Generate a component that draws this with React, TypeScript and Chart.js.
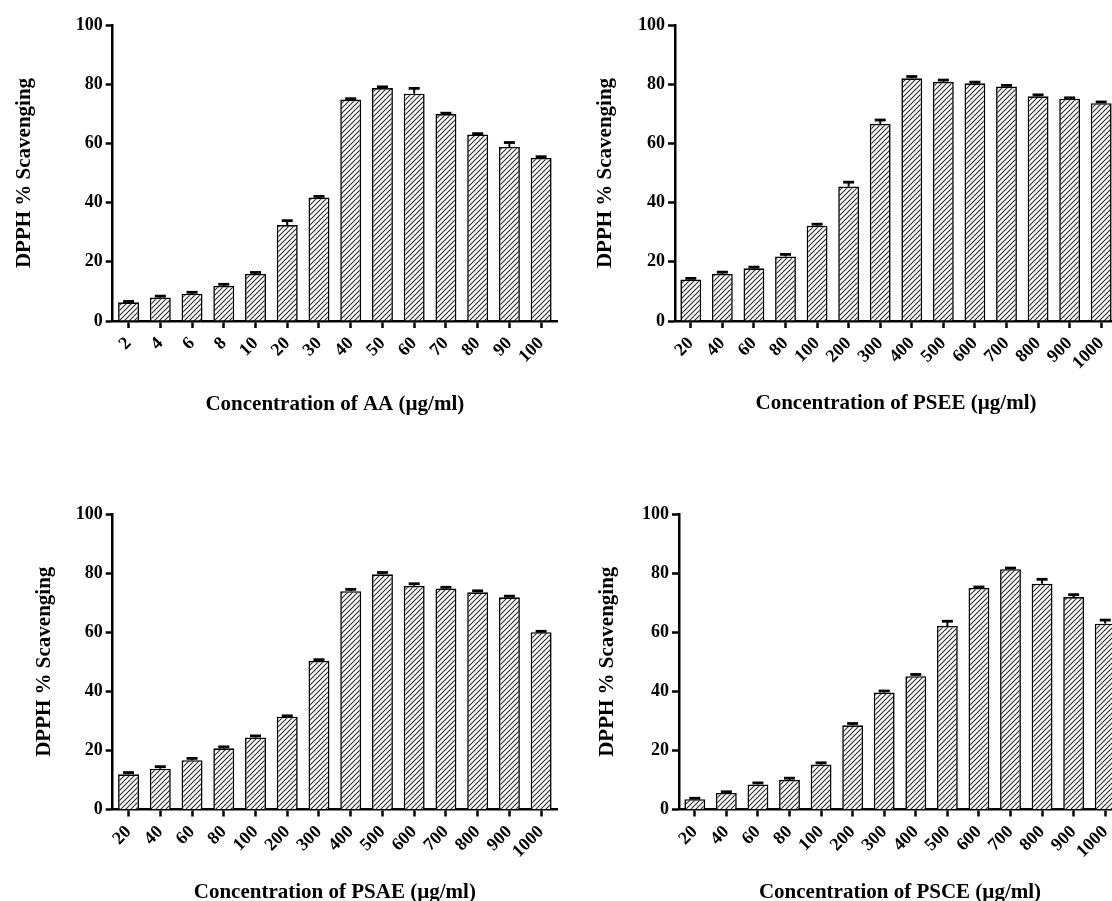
import React, { useEffect, useRef } from 'react';
import { Chart, registerables } from 'chart.js';

Chart.register(...registerables);

// ---------- data ----------
const AA_LABELS = ['2', '4', '6', '8', '10', '20', '30', '40', '50', '60', '70', '80', '90', '100'];
const EXTRACT_LABELS = ['20', '40', '60', '80', '100', '200', '300', '400', '500', '600', '700', '800', '900', '1000'];

const AA_VALUES = [6.3, 7.9, 9.2, 11.9, 15.9, 32.4, 41.7, 74.8, 78.7, 76.8, 69.9, 63.0, 58.8, 55.1];
const AA_ERRORS = [0.3, 0.5, 0.5, 0.5, 0.5, 1.5, 0.4, 0.3, 0.4, 1.8, 0.3, 0.3, 1.5, 0.4];

const PSEE_VALUES = [14.0, 15.9, 17.8, 21.8, 32.2, 45.4, 66.6, 82.0, 80.8, 80.3, 79.2, 75.9, 75.1, 73.6];
const PSEE_ERRORS = [0.4, 0.6, 0.4, 0.7, 0.5, 1.5, 1.3, 0.6, 0.6, 0.4, 0.4, 0.5, 0.3, 0.4];

const PSAE_VALUES = [11.9, 13.8, 16.7, 20.7, 24.4, 31.4, 50.3, 73.9, 79.6, 75.7, 74.8, 73.5, 71.8, 60.0];
const PSAE_ERRORS = [0.6, 0.7, 0.6, 0.5, 0.5, 0.3, 0.4, 0.6, 0.6, 0.7, 0.4, 0.5, 0.4, 0.3];

const PSCE_VALUES = [3.5, 5.6, 8.5, 10.0, 15.2, 28.5, 39.6, 45.1, 62.1, 75.0, 81.3, 76.4, 71.9, 62.9];
const PSCE_ERRORS = [0.3, 0.4, 0.5, 0.6, 0.6, 0.6, 0.5, 0.6, 1.6, 0.3, 0.4, 1.5, 0.8, 1.2];

const Y_TITLE = 'DPPH % Scavenging';
const Y_MIN = 0;
const Y_MAX = 100;
const Y_STEP = 20;

// ---------- layout / style ----------
const SERIF = '"Liberation Serif", "Times New Roman", "DejaVu Serif", serif';

type PanelSpec = {
  labels: string[];
  values: number[];
  errors: number[];
  xTitle: string;
  x: number; y: number; w: number; h: number;
  padTop: number; padRight: number;
  yw: number; xh: number;
  yTitlePad: number; xTitlePad: number;
};

const PANELS: PanelSpec[] = [
  { labels: AA_LABELS, values: AA_VALUES, errors: AA_ERRORS, xTitle: 'Concentration of AA (\u00b5g/ml)',
    x: 0, y: 0, w: 560, h: 450, padTop: 25, padRight: 3, yw: 112.7, xh: 129, yTitlePad: 12.4, xTitlePad: 32.4 },
  { labels: EXTRACT_LABELS, values: PSEE_VALUES, errors: PSEE_ERRORS, xTitle: 'Concentration of PSEE (\u00b5g/ml)',
    x: 560, y: 0, w: 570, h: 450, padTop: 25, padRight: 13, yw: 115, xh: 129, yTitlePad: 33.4, xTitlePad: 33.4 },
  { labels: EXTRACT_LABELS, values: PSAE_VALUES, errors: PSAE_ERRORS, xTitle: 'Concentration of PSAE (\u00b5g/ml)',
    x: 0, y: 490, w: 560, h: 450, padTop: 24, padRight: 3, yw: 112.7, xh: 130.5, yTitlePad: 32.4, xTitlePad: 34.4 },
  { labels: EXTRACT_LABELS, values: PSCE_VALUES, errors: PSCE_ERRORS, xTitle: 'Concentration of PSCE (\u00b5g/ml)',
    x: 560, y: 490, w: 570, h: 450, padTop: 24, padRight: 9, yw: 119, xh: 130.5, yTitlePad: 34.9, xTitlePad: 34.4 },
];

function makeHatch(ctx: CanvasRenderingContext2D): CanvasPattern | string {
  const s = 5;
  const c = document.createElement('canvas');
  c.width = s;
  c.height = s;
  const g = c.getContext('2d');
  if (!g) return '#fff';
  g.fillStyle = '#ffffff';
  g.fillRect(0, 0, s, s);
  g.strokeStyle = '#2b2b2b';
  g.lineWidth = 1.1;
  g.beginPath();
  g.moveTo(0, s);
  g.lineTo(s, 0);
  g.moveTo(-1, 1);
  g.lineTo(1, -1);
  g.moveTo(s - 1, s + 1);
  g.lineTo(s + 1, s - 1);
  g.stroke();
  return ctx.createPattern(c, 'repeat') || '#fff';
}

function errorBarPlugin(errors: number[]) {
  return {
    id: 'errorBars',
    afterDatasetsDraw(chart: any) {
      const ctx: CanvasRenderingContext2D = chart.ctx;
      const meta = chart.getDatasetMeta(0);
      const yScale = chart.scales.y;
      const vals = chart.data.datasets[0].data as number[];
      ctx.save();
      ctx.strokeStyle = '#000';
      ctx.lineCap = 'butt';
      meta.data.forEach((el: any, i: number) => {
        const top = yScale.getPixelForValue(vals[i] + errors[i]);
        const base = el.y;
        ctx.lineWidth = 2;
        ctx.beginPath();
        ctx.moveTo(el.x, base);
        ctx.lineTo(el.x, top);
        ctx.stroke();
        ctx.lineWidth = 2.8;
        ctx.beginPath();
        ctx.moveTo(el.x - 5.5, top);
        ctx.lineTo(el.x + 5.5, top);
        ctx.stroke();
      });
      ctx.restore();
    },
  };
}

function Panel({ spec }: { spec: PanelSpec }) {
  const ref = useRef<HTMLCanvasElement>(null);
  useEffect(() => {
    const canvas = ref.current;
    if (!canvas) return;
    const ctx = canvas.getContext('2d');
    if (!ctx) return;
    const pattern = makeHatch(ctx);
    const tickFont = { family: SERIF, size: 18, weight: 'bold' as const };
    const titleFont = { family: SERIF, size: 21, weight: 'bold' as const };
    const chart = new Chart(canvas, {
      type: 'bar',
      data: {
        labels: spec.labels,
        datasets: [
          {
            data: spec.values,
            backgroundColor: pattern as any,
            borderColor: '#000',
            borderWidth: 1.6,
            barPercentage: 0.66,
            categoryPercentage: 1,
          },
        ],
      },
      options: {
        responsive: false,
        animation: false,
        devicePixelRatio: 1,
        layout: { padding: { left: 0, top: spec.padTop, right: spec.padRight, bottom: 0 } },
        plugins: { legend: { display: false }, tooltip: { enabled: false } },
        scales: {
          x: {
            type: 'category',
            offset: true,
            grid: {
              display: true,
              offset: false,
              drawOnChartArea: false,
              drawTicks: true,
              tickLength: 7,
              tickWidth: 2.5,
              tickColor: '#000',
            },
            border: { display: true, color: '#000', width: 2.5 },
            ticks: {
              autoSkip: false,
              minRotation: 45,
              maxRotation: 45,
              padding: 5,
              color: '#000',
              font: tickFont,
            },
            title: {
              display: true,
              text: spec.xTitle,
              color: '#000',
              font: titleFont,
              padding: { top: 0, bottom: spec.xTitlePad },
            },
            afterFit: (s: any) => {
              s.height = spec.xh;
              s.paddingLeft = 0;
              s.paddingRight = 0;
            },
          },
          y: {
            min: Y_MIN,
            max: Y_MAX,
            grid: {
              display: true,
              drawOnChartArea: false,
              drawTicks: true,
              tickLength: 7,
              tickWidth: 2.5,
              tickColor: '#000',
            },
            border: { display: true, color: '#000', width: 2.5 },
            ticks: { stepSize: Y_STEP, padding: 3, color: '#000', font: tickFont },
            title: {
              display: true,
              text: Y_TITLE,
              color: '#000',
              font: titleFont,
              padding: { top: spec.yTitlePad, bottom: 0 },
            },
            afterFit: (s: any) => {
              s.width = spec.yw;
              s.paddingTop = 0;
              s.paddingBottom = 0;
            },
          },
        },
      } as any,
      plugins: [errorBarPlugin(spec.errors)],
    });
    return () => chart.destroy();
  }, [spec]);
  return (
    <canvas
      ref={ref}
      width={spec.w}
      height={spec.h}
      style={{ position: 'absolute', left: spec.x, top: spec.y, width: spec.w, height: spec.h }}
    />
  );
}

export default function App() {
  return (
    <div
      style={{
        position: 'fixed',
        left: 0,
        top: 0,
        width: 1112,
        height: 901,
        overflow: 'hidden',
        background: '#ffffff',
      }}
    >
      {PANELS.map((p, i) => (
        <Panel key={i} spec={p} />
      ))}
    </div>
  );
}
